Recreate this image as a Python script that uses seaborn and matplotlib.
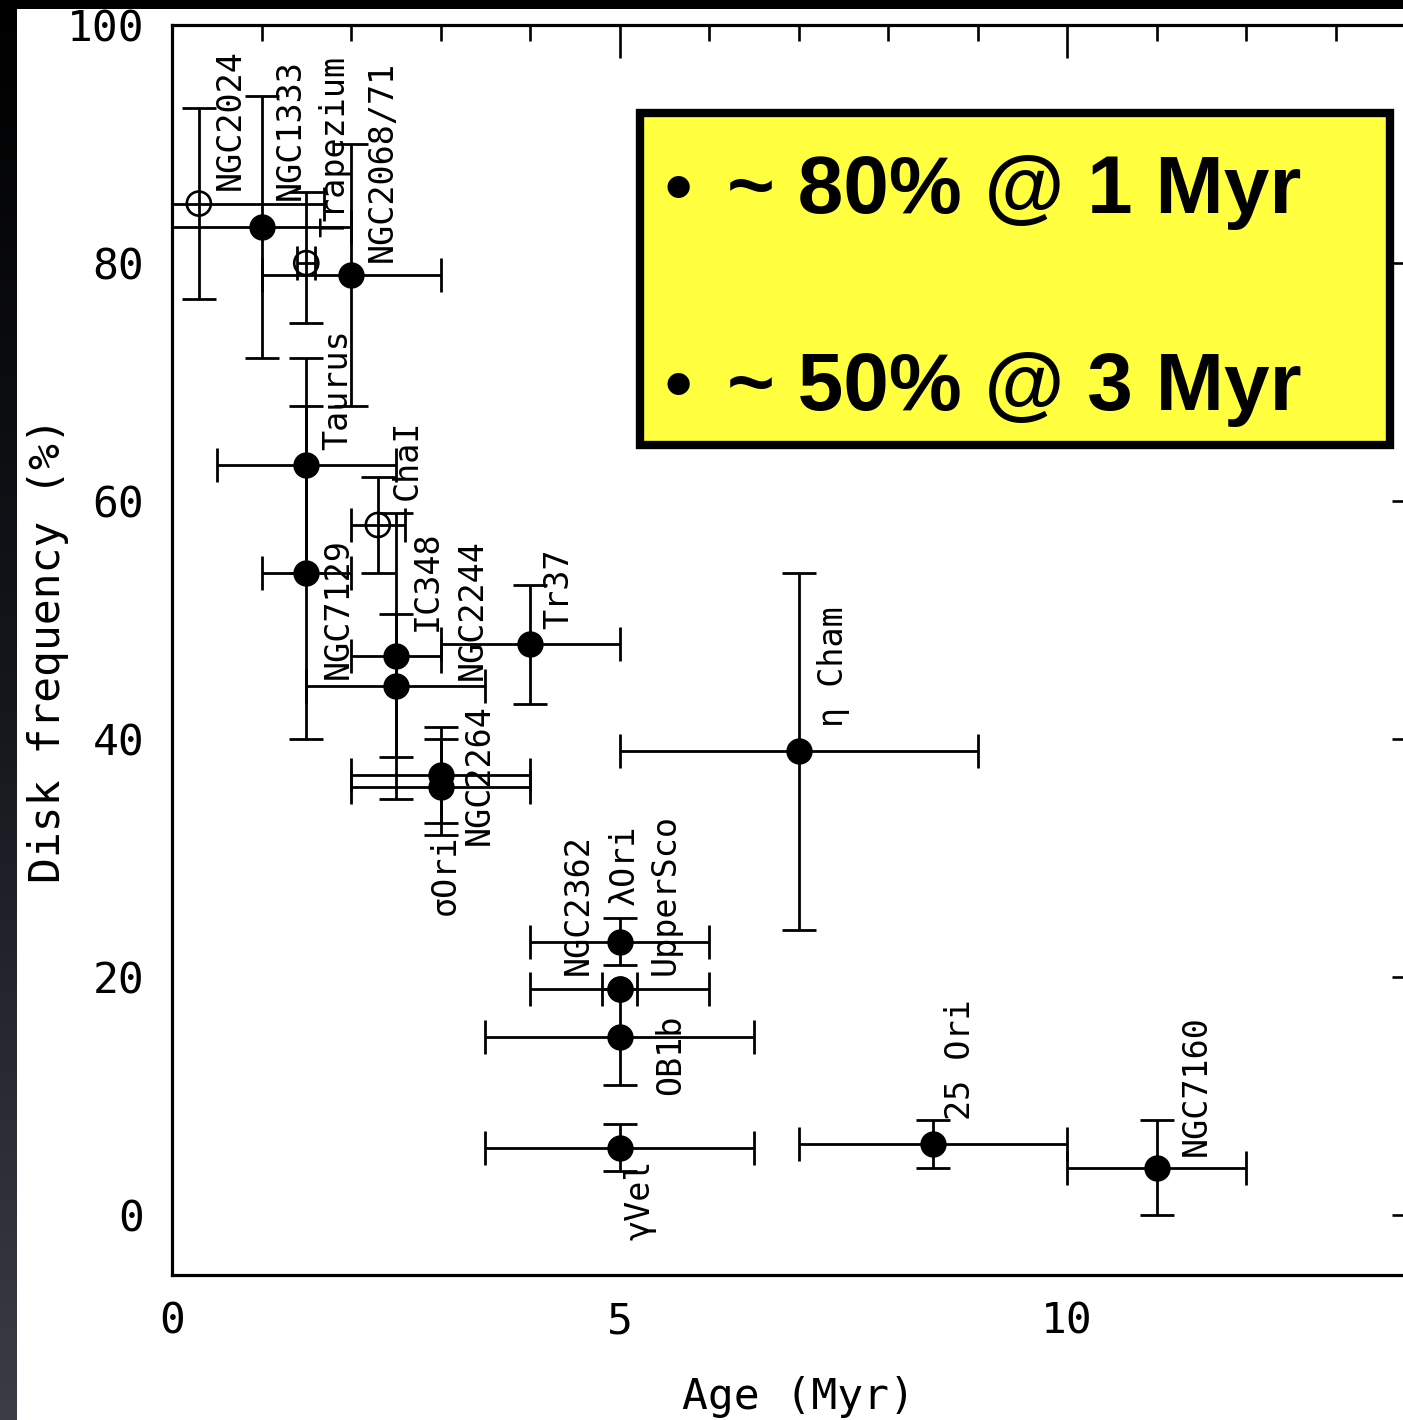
import numpy as np
import pandas as pd
import seaborn as sns
import matplotlib.pyplot as plt
from matplotlib.patches import Rectangle
from matplotlib.ticker import MultipleLocator

# cluster data
names = ["NGC2024", "NGC1333", "Trapezium", "NGC2068/71", "Taurus", "ChaI",
         "NGC7129", "IC348", "NGC2244", "σOri", "NGC2264", "Tr37", "η Cham",
         "λOri", "NGC2362", "UpperSco", "OB1b", "γVel", "25 Ori", "NGC7160"]
age = [0.3, 1.0, 1.5, 2.0, 1.5, 2.3, 1.5, 2.5, 2.5, 3.0, 3.0, 4.0, 7.0,
       5.0, 5.0, 5.0, 5.0, 5.0, 8.5, 11.0]
age_err = [1.4, 1.0, 0.1, 1.0, 1.0, 0.3, 0.5, 0.5, 1.0, 1.0, 1.0, 1.0, 2.0,
           1.0, 1.0, 0.2, 1.5, 1.5, 1.5, 1.0]
freq = [85, 83, 80, 79, 63, 58, 54, 47, 44.5, 37, 36, 48, 39,
        23, 19, 19, 15, 5.7, 6, 4]
freq_err_lo = [8, 11, 5, 11, 9, 4, 14, 12, 6, 4, 4, 5, 15, 2, 0, 0, 4, 2, 2, 4]
freq_err_hi = [8, 11, 6, 11, 9, 4, 14, 12, 6, 4, 4, 5, 15, 2, 0, 0, 4, 2, 2, 4]
open_symbol = ["NGC2024", "Trapezium", "ChaI"]

# where each rotated label starts (baseline, data coords)
label_x = [0.76, 1.43, 1.92, 2.46, 1.96, 2.74, 1.96, 2.96, 3.46, 3.16, 3.54,
           4.43, 7.50, 5.16, 4.65, 5.62, 5.68, 5.34, 8.92, 11.55]
label_y = [86.1, 85.3, 82.2, 80.1, 64.3, 60.1, 45.1, 49.1, 45.0, 25.2, 31.1,
           49.3, 41.0, 26.1, 20.2, 20.2, 10.1, -2.1, 8.0, 5.0]

box_lines = ["~ 80% @ 1 Myr", "~ 50% @ 3 Myr"]

df = pd.DataFrame({"name": names, "age": age, "freq": freq})
df["open"] = df["name"].isin(open_symbol)

sns.set_theme(style="white")
mono = ["DejaVu Sans Mono", "Liberation Mono"]
plt.rcParams["font.family"] = mono
plt.rcParams["text.color"] = "black"
plt.rcParams["axes.labelcolor"] = "black"
plt.rcParams["xtick.color"] = "black"
plt.rcParams["ytick.color"] = "black"

W, H = 1403, 1420
fig = plt.figure(figsize=(W / 100, H / 100), dpi=100, facecolor="black")

# slide background: white page, black band on top, dark strip on the left
fig.add_artist(Rectangle((17 / W, 0), 1 - 17 / W, (H - 9) / H,
                         transform=fig.transFigure, facecolor="white",
                         edgecolor="none", zorder=-10))
strip = fig.add_axes([0, 0, 17 / W, 1], zorder=-5)
grad = np.linspace(0, 1, 256).reshape(-1, 1)
strip.imshow(grad, aspect="auto",
             cmap=sns.blend_palette(["#000000", "#15171d", "#3a3d46"], as_cmap=True))
strip.axis("off")

ax = fig.add_axes([172 / W, (H - 1275) / H, (1425 - 172) / W, (1275 - 25) / H])
ax.set_facecolor("white")

ax.errorbar(df["age"], df["freq"], xerr=[age_err, age_err],
            yerr=[freq_err_lo, freq_err_hi], fmt="none", ecolor="black",
            elinewidth=2.0, capsize=12, capthick=2.0, zorder=2)

sns.scatterplot(data=df[~df["open"]], x="age", y="freq", color="black",
                s=360, linewidth=0, ax=ax, zorder=3, legend=False)
sns.scatterplot(data=df[df["open"]], x="age", y="freq", color="black",
                facecolors="none", edgecolor="black", s=300, linewidth=1.9,
                ax=ax, zorder=3, legend=False)

for name, lx, ly in zip(names, label_x, label_y):
    ax.text(lx, ly, name, rotation=90, rotation_mode="anchor", ha="left",
            va="baseline", fontsize=24, family=mono, color="black", zorder=4)

ax.set_xlim(0, 14)
ax.set_ylim(-5, 100)
ax.xaxis.set_major_locator(MultipleLocator(5))
ax.xaxis.set_minor_locator(MultipleLocator(1))
ax.yaxis.set_major_locator(MultipleLocator(20))
ax.yaxis.set_minor_locator(MultipleLocator(5))
ax.tick_params(which="both", direction="in", top=True, right=True,
               width=1.9, color="black", labelsize=31, labelcolor="black")
ax.tick_params(which="major", length=24)
ax.tick_params(which="minor", length=11.5)
ax.tick_params(axis="y", pad=20)
ax.tick_params(axis="x", pad=18)
for sp in ax.spines.values():
    sp.set_linewidth(2.3)
    sp.set_color("black")

ax.set_xlabel("Age (Myr)", fontsize=31)
ax.set_ylabel("Disk frequency (%)", fontsize=31)
ax.xaxis.set_label_coords(0.5, -0.081)
ax.yaxis.set_label_coords(-0.082, 0.5)

# yellow summary box
ax.add_patch(Rectangle((0.3735, 0.664), 0.5986, 0.2656, transform=ax.transAxes,
                       facecolor="#ffff40", edgecolor="black", linewidth=6,
                       zorder=5, clip_on=False))
for txt, base in zip(box_lines, [0.8496, 0.692]):
    ax.text(0.4038, base, "•", transform=ax.transAxes, fontsize=56,
            fontweight="bold", family=["Liberation Sans", "DejaVu Sans"],
            color="black", ha="center", va="baseline", zorder=6)
    ax.text(0.4429, base, txt, transform=ax.transAxes, fontsize=59,
            fontweight="bold", family=["Liberation Sans", "DejaVu Sans"],
            color="black", ha="left", va="baseline", zorder=6)

fig.savefig("out.png", dpi=100, facecolor=fig.get_facecolor())
